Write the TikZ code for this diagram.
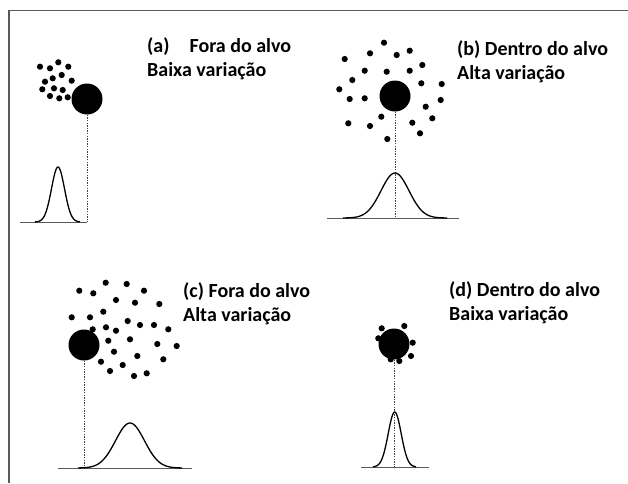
\documentclass[tikz,border=0pt]{standalone}
\usepackage{fontspec}
\setmainfont{Carlito}
\usetikzlibrary{calc}

\begin{document}
\begin{tikzpicture}[x=1pt, y=-1pt]
  \tikzset{
    target/.style={circle, fill=black, inner sep=0pt, minimum size=31pt},
    shot/.style={fill=black},
    guide/.style={gray!50!black, line width=1pt, dash pattern=on 1.5pt off 1.1pt},
    ground/.style={gray!70!black, line width=1pt},
    bell/.style={black, line width=1.3pt},
    caption/.style={anchor=north west, inner sep=0pt, align=left,
      font=\fontsize{20}{24}\selectfont\bfseries}
  }
  \def\dotr{3.1}
  \useasboundingbox (0, 0) rectangle (628, 483);
  \draw[gray!70!black, line width=1.2pt] (628, 10.5) -- (9, 10.5) -- (9, 483);

  % (a) Fora do alvo, baixa variacao
  \foreach \x/\y in {40/66.7, 50/68.3, 58.3/62.3, 68.3/66.7, 52.7/78.3, 61.7/75,
    45/81.7, 71.7/80.7, 42.3/89.3, 54/88.3, 62.7/90, 50/96, 59.3/98.3, 67.7/97.3}
    \fill[shot] (\x, \y) circle (\dotr);
  \node[target] (ta) at (87, 99) {};
  \coordinate (ba) at (87, 222);
  \draw[ground] (20, 222) -- (ba);
  \draw[guide] (ta.south) -- (ba);
  \draw[bell] plot[smooth, domain=35:80, samples=60]
    (\x, {222 - 55*exp(-((\x-58)^2)/(2*6.5^2))});
  \node[caption] (la) at (147, 37) {(a)\quad Fora do alvo\\Baixa variação};

  % (b) Dentro do alvo, alta variacao
  \foreach \x/\y in {384/42.7, 370/53.3, 396.7/55, 409.7/50.7, 344.7/59, 422.3/65,
    364.7/70.7, 386.7/71.7, 409.7/70.7, 352.3/80, 421.3/83.3, 441.7/84,
    339.3/89.3, 349.7/99, 364.7/98.3, 440.7/100, 425.7/106.7, 381.3/116.7,
    432.3/118.3, 348.3/123.3, 370/126, 412.3/122.7, 420/133.3, 387.3/139}
    \fill[shot] (\x, \y) circle (\dotr);
  \node[target] (tb) at (395, 96) {};
  \coordinate (bb) at (395, 218);
  \draw[ground] (327, 218) -- (459, 218);
  \draw[guide] (tb.south) -- (bb);
  \draw[bell] plot[smooth, domain=343:447, samples=80]
    (\x, {218 - 45*exp(-((\x-395)^2)/(2*14^2))});
  \node[caption] (lb) at (457, 40) {(b) Dentro do alvo\\Alta variação};

  % (c) Fora do alvo, alta variacao
  \foreach \x/\y in {79.3/290.7, 93.3/293.3, 105.7/282.7, 126.7/284, 144/290.7,
    116/300, 135/302.7, 159.3/304, 71.7/317.3, 90/317.3, 103.3/311.7, 106/327.3,
    116/330.7, 127.7/321, 140/325, 154/325, 168.3/329.3, 92.7/329.3, 108.3/340.7,
    130/339.3, 157.3/344, 176.7/346, 114/351.7, 137.3/356, 163.3/359.3,
    101/361.7, 122.7/365, 110/371, 134/376, 146.7/373.3}
    \fill[shot] (\x, \y) circle (\dotr);
  \node[target] (tc) at (84, 345) {};
  \coordinate (bc) at (84, 468);
  \draw[ground] (58, 468) -- (192, 468);
  \draw[guide] (tc.south) -- (bc);
  \draw[bell] plot[smooth, domain=78:182, samples=80]
    (\x, {468 - 45*exp(-((\x-130)^2)/(2*14.5^2))});
  \node[caption] (lc) at (183, 282) {(c) Fora do alvo\\Alta variação};

  % (d) Dentro do alvo, baixa variacao
  \foreach \x/\y in {381.7/328.3, 404.3/326, 378.3/338.3, 412.7/342.7, 411/356,
    385/351.7, 390.7/359.3, 399.3/361}
    \fill[shot] (\x, \y) circle (\dotr);
  \node[target] (td) at (394, 344) {};
  \coordinate (bd) at (394, 467);
  \draw[ground] (361, 467) -- (429, 467);
  \draw[guide] (td.south) -- (bd);
  \draw[bell] plot[smooth, domain=373:416, samples=60]
    (\x, {467 - 55*exp(-((\x-394.7)^2)/(2*6.5^2))});
  \node[caption] (ld) at (449, 281) {(d) Dentro do alvo\\Baixa variação};
\end{tikzpicture}
\end{document}
